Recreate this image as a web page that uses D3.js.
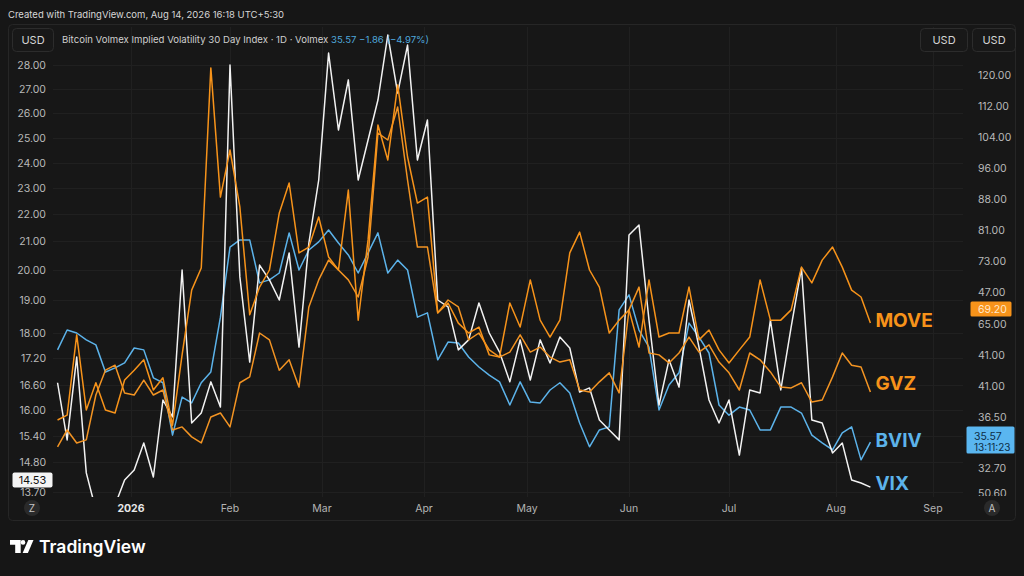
<!DOCTYPE html>
<html><head><meta charset="utf-8">
<script src="https://cdn.jsdelivr.net/npm/d3@7"></script>
<style>html,body{margin:0;padding:0;background:#161616;}svg{display:block;}</style>
</head><body>
<svg id="chart" width="1024" height="576"></svg>
<script>
// ---------- DATA ----------
const startDate = new Date(2025, 11, 9);
const stepDays = 3;
const bviv = [17.46,18.09,18.00,17.78,17.62,16.89,16.98,17.09,17.52,17.46,
  16.76,16.65,15.42,16.31,16.17,16.65,16.89,18.48,20.79,21.04,
  21.04,19.57,19.67,19.90,21.30,20.00,20.69,20.97,21.41,20.93,
  20.52,19.90,20.59,21.30,19.90,20.34,20.00,18.48,18.61,17.16,
  17.71,17.68,17.23,17.00,16.82,16.67,16.12,16.67,16.19,16.17,
  16.48,16.65,16.41,15.70,15.15,15.54,15.61,18.70,19.17,18.09,
  17.55,16.00,16.60,16.87,18.30,17.87,17.36,16.12,15.88,16.07,
  16.00,15.54,15.54,16.07,16.07,15.93,15.42,15.24,15.08,15.47,
  15.61,14.85,15.26];
const vix = [16.65,15.31,17.23,14.40,13.04,12.86,13.22,14.14,14.51,15.24,
  14.25,16.24,15.84,20.00,15.70,15.93,16.67,16.07,28.00,19.77,
  17.11,20.17,19.67,19.00,20.59,17.55,20.93,23.32,28.50,25.32,
  27.38,23.32,24.92,26.54,29.25,26.83,28.83,24.12,25.72,19.00,
  18.79,17.46,17.78,18.91,18.00,17.39,16.67,17.78,16.71,17.78,
  17.09,17.87,17.52,16.43,16.53,15.77,15.54,15.31,21.22,21.59,
  18.39,16.12,17.16,16.55,19.00,17.55,16.24,15.70,16.24,14.96,
  16.48,16.41,18.39,16.48,18.18,20.07,15.77,15.70,15.01,15.24,
  14.14,14.03,13.88];
const move = [15.77,15.88,17.94,16.00,16.65,16.00,15.93,16.71,16.93,17.16,
  16.48,16.76,15.65,17.30,19.33,20.07,27.88,22.65,24.52,22.27,
  18.55,19.43,20.00,22.04,23.20,20.59,20.79,21.89,20.45,20.00,
  22.92,18.39,21.04,25.52,24.12,27.17,24.24,22.42,22.65,18.61,
  18.91,18.30,18.00,18.18,17.30,17.23,18.91,18.18,19.67,18.39,
  17.87,18.39,20.59,21.33,20.00,19.43,18.00,18.39,18.70,17.55,
  19.67,17.87,18.00,18.00,19.43,17.78,18.09,17.46,17.09,17.46,
  17.87,19.67,18.39,18.39,18.70,20.10,19.57,20.34,20.79,20.10,
  19.33,19.10,18.30];
const gvz = [15.15,15.54,15.24,15.31,16.36,16.93,17.04,16.41,16.36,16.71,
  16.36,16.48,15.54,15.61,15.38,15.24,15.84,15.93,15.61,16.65,
  16.78,18.00,17.78,16.93,17.16,16.55,18.79,19.67,20.34,20.00,
  19.67,19.10,20.45,25.20,24.92,26.25,23.32,20.79,20.79,18.61,
  19.00,18.79,17.78,18.00,17.46,17.23,17.39,17.94,17.39,17.55,
  17.23,17.11,17.16,16.48,16.43,16.67,16.87,16.41,18.70,19.43,
  17.36,17.30,17.09,17.36,17.87,17.39,17.62,17.11,16.87,16.48,
  17.36,17.16,16.89,16.55,16.53,16.65,16.19,16.24,16.78,17.36,
  17.04,17.00,16.43];
const leftTicks = [28,27,26,25,24,23,22,21,20,19,18,17.2,16.6,16,15.4,14.8,13.7];
const rightTickLabels = ["120.00","112.00","104.00","96.00","88.00","81.00","73.00","47.00","65.00","41.00","41.00","36.50","32.70","50.60"];
const monthLabels = ["2026","Feb","Mar","Apr","May","Jun","Jul","Aug","Sep"];
const monthDates = [new Date(2026,0,1),new Date(2026,1,1),new Date(2026,2,1),new Date(2026,3,1),
  new Date(2026,4,1),new Date(2026,5,1),new Date(2026,6,1),new Date(2026,7,1),new Date(2026,8,1)];
const lastVix = "14.53", lastMove = "69.20", lastBviv = "35.57", countdown = "13:11:23";
const headerText = "Created with TradingView.com, Aug 14, 2026 16:18 UTC+5:30";
const titleText = "Bitcoin Volmex Implied Volatility 30 Day Index · 1D · Volmex";
const quoteText = "35.57  −1.86 (−4.97%)";

// ---------- LAYOUT ----------
const W = 1024, H = 576;
const plot = {left: 53, right: 963, top: 27, bottom: 497};
const FONT = "Inter, 'Noto Sans', 'DejaVu Sans', sans-serif";
const ORANGE = "#f7931a", BLUE = "#5cb3ea", WHITE = "#f2f2f2";

const svg = d3.select("#chart");
svg.append("rect").attr("width", W).attr("height", H).attr("fill", "#161616");

const dates = d3.range(bviv.length).map(i => d3.timeDay.offset(startDate, i * stepDays));

const x = d3.scaleTime().domain(monthDates)
  .range([131, 230, 322, 424, 527, 629, 729, 836, 933]);
const ySorted = leftTicks.slice().sort((a, b) => a - b);
const y = d3.scaleLinear().domain(ySorted)
  .range([492, 462, 436, 410, 385, 358, 333, 300, 270, 241, 214, 188, 163, 138, 113, 89, 65]);
const yRight = d3.scaleLinear().domain([0, 11, 12, 13]).range([75, 417, 468, 493]);

// panel border
svg.append("rect").attr("x", 8.5).attr("y", 24.5).attr("width", 1007).attr("height", 496)
  .attr("rx", 4).attr("fill", "#171717").attr("stroke", "#262626");

// grid
const grid = svg.append("g");
grid.selectAll("line.h").data(leftTicks).join("line")
  .attr("x1", plot.left).attr("x2", plot.right)
  .attr("y1", d => Math.round(y(d)) + 0.5).attr("y2", d => Math.round(y(d)) + 0.5)
  .attr("stroke", "#202020");
grid.selectAll("line.v").data(monthDates).join("line")
  .attr("y1", plot.top).attr("y2", plot.bottom)
  .attr("x1", d => Math.round(x(d)) + 0.5).attr("x2", d => Math.round(x(d)) + 0.5)
  .attr("stroke", "#202020");

// clip
svg.append("clipPath").attr("id", "clip").append("rect")
  .attr("x", plot.left).attr("y", plot.top)
  .attr("width", plot.right - plot.left).attr("height", plot.bottom - plot.top);

const line = d3.line().x((d, i) => x(dates[i])).y(d => y(d));
const lines = svg.append("g").attr("clip-path", "url(#clip)");
[[bviv, BLUE], [vix, WHITE], [gvz, "#f39423"], [move, ORANGE]].forEach(([s, c]) => {
  lines.append("path").datum(s).attr("d", line).attr("fill", "none")
    .attr("stroke", c).attr("stroke-width", 1.5).attr("stroke-linejoin", "round");
});

// series labels
const lastDate = dates[dates.length - 1];
const lab = svg.append("g").attr("font-family", FONT).attr("font-weight", 700).attr("font-size", 19);
[["MOVE", ORANGE, 320], ["GVZ", ORANGE, 383], ["BVIV", BLUE, 440], ["VIX", BLUE, 483.5]].forEach(([t, c, cy]) => {
  lab.append("text").attr("x", x(lastDate) + 5).attr("y", cy).attr("dy", "0.36em")
    .attr("fill", c).text(t);
});

// left axis
const lAxis = svg.append("g").attr("font-family", FONT).attr("font-size", 10.5).attr("fill", "#b9b9b9");
lAxis.selectAll("text").data(leftTicks).join("text")
  .attr("x", 46).attr("y", d => y(d)).attr("dy", "0.36em").attr("text-anchor", "end")
  .text(d => d3.format(".2f")(d));
svg.append("rect").attr("x", 12.5).attr("y", 472.5).attr("width", 40).attr("height", 15)
  .attr("rx", 2).attr("fill", "#f4f4f4");
svg.append("text").attr("x", 32.5).attr("y", 480).attr("dy", "0.36em").attr("text-anchor", "middle")
  .attr("font-family", FONT).attr("font-size", 11).attr("fill", "#111").text(lastVix);

// right axis
svg.append("clipPath").attr("id", "rclip").append("rect")
  .attr("x", 964).attr("y", 55).attr("width", 52).attr("height", 441);
const rAxis = svg.append("g").attr("clip-path", "url(#rclip)")
  .attr("font-family", FONT).attr("font-size", 10.5).attr("fill", "#b9b9b9");
rAxis.selectAll("text").data(rightTickLabels).join("text")
  .attr("x", 978).attr("y", (d, i) => yRight(i)).attr("dy", "0.36em").text(d => d);
svg.append("rect").attr("x", 970.5).attr("y", 301.5).attr("width", 41).attr("height", 15)
  .attr("rx", 1.5).attr("fill", ORANGE);
svg.append("text").attr("x", 978).attr("y", 309).attr("dy", "0.36em")
  .attr("font-family", FONT).attr("font-size", 10.5).attr("fill", "#ffe9cc").text(lastMove);
svg.append("rect").attr("x", 966.5).attr("y", 426.5).attr("width", 48).attr("height", 27)
  .attr("rx", 1.5).attr("fill", "#5ab6f0");
svg.append("text").attr("x", 974).attr("y", 436).attr("dy", "0.36em")
  .attr("font-family", FONT).attr("font-size", 10.5).attr("fill", "#0d2c45").text(lastBviv);
svg.append("text").attr("x", 974).attr("y", 447.5).attr("dy", "0.36em")
  .attr("font-family", FONT).attr("font-size", 10).attr("fill", "#0d2c45").text(countdown);

// time axis
const tAxis = svg.append("g").attr("font-family", FONT).attr("font-size", 10.5);
tAxis.selectAll("text").data(monthDates).join("text")
  .attr("x", d => x(d)).attr("y", 508).attr("dy", "0.36em").attr("text-anchor", "middle")
  .attr("fill", (d, i) => i === 0 ? "#e8e8e8" : "#b4b4b4")
  .attr("font-weight", (d, i) => i === 0 ? 700 : 400)
  .text((d, i) => monthLabels[i]);
[["Z", 32], ["A", 992]].forEach(([t, cx]) => {
  svg.append("circle").attr("cx", cx).attr("cy", 508).attr("r", 8).attr("fill", "#2a2a2a");
  svg.append("text").attr("x", cx).attr("y", 508).attr("dy", "0.36em").attr("text-anchor", "middle")
    .attr("font-family", FONT).attr("font-size", 10).attr("fill", "#c4c4c4").text(t);
});

// header
svg.append("text").attr("x", 8).attr("y", 15).attr("dy", "0.36em")
  .attr("font-family", FONT).attr("font-size", 9.5).attr("fill", "#d6d6d6").text(headerText);
function usdBox(x0, w) {
  svg.append("rect").attr("x", x0 + 0.5).attr("y", 28.5).attr("width", w).attr("height", 23)
    .attr("rx", 4).attr("fill", "#181818").attr("stroke", "#2c2c2c");
  svg.append("text").attr("x", x0 + w / 2 + 0.5).attr("y", 40).attr("dy", "0.36em").attr("text-anchor", "middle")
    .attr("font-family", FONT).attr("font-size", 11).attr("fill", "#d4d4d4").text("USD");
}
usdBox(12, 41); usdBox(920, 47); usdBox(972, 43);
const title = svg.append("text").attr("x", 62).attr("y", 40).attr("dy", "0.36em")
  .attr("font-family", FONT).attr("font-size", 9.6);
title.append("tspan").attr("fill", "#cfcfcf").text(titleText + " ");
title.append("tspan").attr("fill", "#4fa8dc").text(quoteText);

// footer logo
const logo = svg.append("g").attr("fill", "#ffffff");
logo.append("path").attr("d", "M10,540 H20.7 V553 H15.2 V544.8 H10 Z");
logo.append("circle").attr("cx", 23).attr("cy", 542.4).attr("r", 2.3);
logo.append("path").attr("d", "M28.3,540 H33.5 L27.9,553 H22.6 Z");
svg.append("text").attr("x", 39).attr("y", 553).attr("font-family", FONT)
  .attr("font-size", 17.5).attr("font-weight", 600).attr("fill", "#ffffff").text("TradingView");
</script>
</body></html>
